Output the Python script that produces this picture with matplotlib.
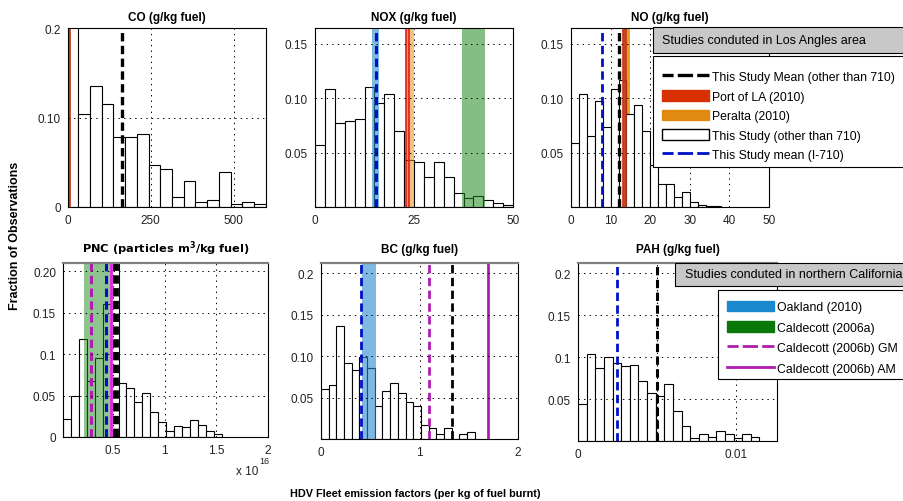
import matplotlib
matplotlib.use('Agg')
import matplotlib.pyplot as plt
import numpy as np
from matplotlib.lines import Line2D
from matplotlib.patches import Patch, Rectangle

plt.rcParams['font.family'] = ['Liberation Sans', 'DejaVu Sans']
plt.rcParams['mathtext.default'] = 'regular'
plt.rcParams['lines.scale_dashes'] = False

# ---------------- data ----------------
co_bin_start, co_bin_width = -4.4, 35.4
co_heights = [0.26, 0.104, 0.135, 0.115, 0.078, 0.078, 0.082, 0.047, 0.043,
              0.011, 0.029, 0.006, 0.008, 0.039, 0.003, 0.006, 0.003]
co_mean = 162
co_port_la = 4

nox_bin_start, nox_bin_width = 0.0, 2.5
nox_heights = [0.057, 0.1086, 0.077, 0.0788, 0.0807, 0.110, 0.096, 0.1037, 0.0696,
               0.043, 0.041, 0.028, 0.041, 0.028, 0.0126, 0.008, 0.0104, 0.006,
               0.0037, 0.0015]
nox_i710_mean = 15.3
nox_oakland = (14.45, 16.2)
nox_port_la = (22.9, 23.8)
nox_peralta = (23.8, 25.0)
nox_caldecott_a = (37.1, 43.0)

no_bin_start, no_bin_width = 0.0, 2.0
no_heights = [0.0589, 0.104, 0.0656, 0.0978, 0.0739, 0.109, 0.117, 0.0856, 0.0938,
              0.0702, 0.0386, 0.0212, 0.0212, 0.0089, 0.0135, 0.0043, 0.0021,
              0.0012, 0.0012]
no_i710_mean = 7.9
no_mean = 12.1
no_port_la = (13.2, 13.8)
no_peralta = (13.8, 14.9)

# PNC in units of 1e16
pnc_bin_start, pnc_bin_width = 0.0155, 0.0768
pnc_heights = [0.0218, 0.049, 0.118, 0.0674, 0.0952, 0.160, 0.25, 0.0646, 0.059,
               0.042, 0.053, 0.030, 0.018, 0.0073, 0.013, 0.0125, 0.020, 0.015,
               0.007, 0.0036]
pnc_caldecott_a = (0.216, 0.474)
pnc_caldecott_gm = 0.284
pnc_i710_mean = 0.429
pnc_caldecott_am = 0.484
pnc_mean = 0.532

bc_bin_start, bc_bin_width = 0.0, 0.078
bc_heights = [0.0605, 0.0653, 0.136, 0.092, 0.0839, 0.0992, 0.0859, 0.0395, 0.058,
              0.0677, 0.0556, 0.0451, 0.0395, 0.0169, 0.0133, 0.0057, 0.0129, 0.0,
              0.0057, 0.0081]
bc_i710_mean = 0.405
bc_oakland = (0.416, 0.557)
bc_caldecott_gm = 1.10
bc_mean = 1.335
bc_caldecott_am = 1.70

pah_bin_start, pah_bin_width = 0.0, 0.000547
pah_heights = [0.0436, 0.1043, 0.0872, 0.1004, 0.0928, 0.0892, 0.0911, 0.0716, 0.057,
               0.054, 0.068, 0.036, 0.0176, 0.0036, 0.008, 0.0044, 0.0116, 0.008,
               0.0032, 0.008, 0.0044]
pah_i710_mean = 0.00248
pah_mean = 0.00498

# ---------------- style ----------------
C_BLACK = 'black'
C_BLUE = '#0010c8'
C_MAG = '#b01cb0'
C_RED = '#e02010'
C_ORANGE = '#e8901a'
C_OAK = '#2a8ad0'
C_GREEN = '#1f8a1f'
DASH = (0, (6.0, 3.2))

fig = plt.figure(figsize=(9.04, 5.02), dpi=100)
W, H = 904.0, 502.0


def make_ax(x0, x1, ytop, ybot):
    return fig.add_axes([x0 / W, 1 - ybot / H, (x1 - x0) / W, (ybot - ytop) / H])


def hist(ax, start, width, heights):
    edges = start + width * np.arange(len(heights))
    ax.bar(edges, heights, width=width, align='edge', facecolor='white',
           edgecolor='black', linewidth=0.8, zorder=1)


def span(ax, rng, color, alpha, edge=None, z=1.5):
    ax.axvspan(rng[0], rng[1], facecolor=color, alpha=alpha, lw=0, zorder=z)
    if edge:
        ax.axvline(rng[0], color=edge, lw=1.2, zorder=1.6)
        ax.axvline(rng[1], color=edge, lw=1.2, zorder=1.6)


def vline(ax, x, color, lw=2.2, dashed=True):
    if dashed:
        ax.axvline(x, color=color, lw=lw, linestyle=DASH, zorder=2)
    else:
        ax.axvline(x, color=color, lw=lw, zorder=2)


def style(ax, title, xlim, ylim, xticks, xlabels, yticks, ylabels, pad, topgray=False,
          tfont=None, tsize=8.5):
    ax.set_xlim(*xlim)
    ax.set_ylim(*ylim)
    ax.set_xticks(xticks)
    ax.set_xticklabels(xlabels)
    ax.set_yticks(yticks)
    ax.set_yticklabels(ylabels)
    ax.set_axisbelow(False)
    ax.grid(True, linestyle=(0, (1, 3)), color='black', lw=0.7)
    ax.tick_params(length=0, labelsize=8.5, pad=5, colors='#222222')
    for s in ax.spines.values():
        s.set_linewidth(0.8)
        s.set_zorder(3)
    if topgray:
        ax.spines['top'].set_color('#808080')
        ax.spines['top'].set_linewidth(1.6)
    kw = dict(fontsize=tsize, fontweight='bold', pad=pad)
    if tfont:
        kw['family'] = tfont
    ax.set_title(title, **kw)


# CO
ax = make_ax(68, 266, 29, 208)
hist(ax, co_bin_start, co_bin_width, co_heights)
ax.axvline(co_port_la, color='#c8401a', lw=2.0, zorder=2)
vline(ax, co_mean, C_BLACK, lw=2.4)
style(ax, 'CO (g/kg fuel)', (0, 598), (0, 0.2), [0, 250, 500], ['0', '250', '500'],
      [0, 0.1, 0.2], ['0', '0.10', '0.2'], 6)

# NOX
ax = make_ax(315, 513, 29, 208)
hist(ax, nox_bin_start, nox_bin_width, nox_heights)
span(ax, nox_oakland, C_OAK, 0.6)
span(ax, nox_port_la, C_RED, 0.5, edge=C_RED)
span(ax, nox_peralta, C_ORANGE, 0.55)
span(ax, nox_caldecott_a, C_GREEN, 0.55)
vline(ax, nox_i710_mean, C_BLUE, lw=2.2)
style(ax, 'NOX (g/kg fuel)', (0, 50), (0, 0.1647), [0, 25, 50], ['0', '25', '50'],
      [0.05, 0.10, 0.15], ['0.05', '0.10', '0.15'], 6)

# NO
ax = make_ax(571, 769, 29, 208)
hist(ax, no_bin_start, no_bin_width, no_heights)
span(ax, no_peralta, C_ORANGE, 0.9, z=0.5)
span(ax, no_port_la, '#c03010', 0.9, edge='#c83a10')
vline(ax, no_i710_mean, C_BLUE, lw=2.0)
vline(ax, no_mean, C_BLACK, lw=2.4)
style(ax, 'NO (g/kg fuel)', (0, 50), (0, 0.1647), [0, 10, 20, 30, 40, 50],
      ['0', '10', '20', '30', '40', '50'],
      [0.05, 0.10, 0.15], ['0.05', '0.10', '0.15'], 6)

# PNC
ax = make_ax(63, 268, 264, 438)
hist(ax, pnc_bin_start, pnc_bin_width, pnc_heights)
span(ax, pnc_caldecott_a, C_GREEN, 0.5)
vline(ax, pnc_caldecott_gm, C_MAG, lw=2.2)
vline(ax, pnc_i710_mean, C_BLUE, lw=2.2)
vline(ax, pnc_caldecott_am, '#e020e0', lw=2.0, dashed=False)
vline(ax, pnc_mean, C_BLACK, lw=4.2)
style(ax, 'PNC (particles m$^3$/kg fuel)', (0.0155, 2.0), (0, 0.21),
      [0.5, 1.0, 1.5, 2.0], ['0.5', '1', '1.5', '2'],
      [0, 0.05, 0.1, 0.15, 0.2], ['0', '0.05', '0.1', '0.15', '0.20'], 8, topgray=True,
      tfont='DejaVu Sans', tsize=8.2)
fig.text(258 / W, 1 - 472 / H, 'x 10', fontsize=8.5, ha='right', va='center', color='#222222')
fig.text(259 / W, 1 - 462 / H, '16', fontsize=6.5, ha='left', va='center', color='#222222')

# BC
ax = make_ax(321, 518, 264, 440)
hist(ax, bc_bin_start, bc_bin_width, bc_heights)
span(ax, bc_oakland, C_OAK, 0.6)
vline(ax, bc_i710_mean, C_BLUE, lw=2.0)
vline(ax, bc_caldecott_gm, C_MAG, lw=2.0)
vline(ax, bc_mean, C_BLACK, lw=2.0)
vline(ax, bc_caldecott_am, C_MAG, lw=2.0, dashed=False)
style(ax, 'BC (g/kg fuel)', (0, 2), (0, 0.2125), [0, 1, 2], ['0', '1', '2'],
      [0.05, 0.10, 0.15, 0.2], ['0.05', '0.10', '0.15', '0.2'], 8, topgray=True)

# PAH
ax = make_ax(578, 777, 264, 442)
hist(ax, pah_bin_start, pah_bin_width, pah_heights)
vline(ax, pah_i710_mean, C_BLUE, lw=2.0)
ax.axvline(pah_mean, color='black', lw=0.8, linestyle=(0, (1, 2)), zorder=2)
vline(ax, pah_mean, C_BLACK, lw=2.2)
style(ax, 'PAH (g/kg fuel)', (0, 0.0126), (0, 0.2125), [0, 0.01], ['0', '0.01'],
      [0.05, 0.1, 0.15, 0.2], ['0.05', '0.1', '0.15', '0.2'], 8, topgray=True)

# ---------------- legends ----------------
def title_box(x, ytop, ybot, text, tx):
    fig.add_artist(Rectangle((x / W, 1 - ybot / H), 0.5, (ybot - ytop) / H,
                             transform=fig.transFigure, facecolor='#c8c8c8',
                             edgecolor='black', lw=0.8, zorder=10))
    fig.text(tx / W, 1 - (ytop + ybot) / 2 / H, text, fontsize=9.0, ha='left',
             va='center', zorder=11)


def legend_box(x, ytop, ybot):
    fig.add_artist(Rectangle((x / W, 1 - ybot / H), 0.5, (ybot - ytop) / H,
                             transform=fig.transFigure, facecolor='white',
                             edgecolor='black', lw=0.8, zorder=10))


title_box(653, 28, 54, 'Studies conduted in Los Angles area', 662)
legend_box(653, 57, 168)
h_la = [Line2D([], [], color='black', lw=2.4, linestyle=(3, (11, 3))),
        Patch(facecolor='#d83000', edgecolor='#d83000'),
        Patch(facecolor='#e08a10', edgecolor='#e08a10'),
        Patch(facecolor='white', edgecolor='black'),
        Line2D([], [], color=C_BLUE, lw=2.0, linestyle=(3, (11, 3)))]
l_la = ['This Study Mean (other than 710)', 'Port of LA (2010)', 'Peralta (2010)',
        'This Study (other than 710)', 'This Study mean (I-710)']
leg1 = fig.legend(h_la, l_la, loc='upper left', bbox_to_anchor=(653 / W, 1 - 63 / H),
                  frameon=False, fontsize=8.8, handlelength=3.9, handleheight=1.0,
                  handletextpad=0.25, labelspacing=0.56, borderpad=0.7, borderaxespad=0)
leg1.set_zorder(12)

title_box(675, 264, 287, 'Studies conduted in northern California', 685)
legend_box(718, 291, 380)
h_nc = [Patch(facecolor='#1a88cc', edgecolor='#1a88cc'),
        Patch(facecolor='#0a780a', edgecolor='#0a780a'),
        Line2D([], [], color=C_MAG, lw=2.0, linestyle=(3, (11, 3))),
        Line2D([], [], color=C_MAG, lw=2.0)]
l_nc = ['Oakland (2010)', 'Caldecott (2006a)', 'Caldecott (2006b) GM',
        'Caldecott (2006b) AM']
leg2 = fig.legend(h_nc, l_nc, loc='upper left', bbox_to_anchor=(718 / W, 1 - 293 / H),
                  frameon=False, fontsize=8.8, handlelength=3.9, handleheight=1.0,
                  handletextpad=0.25, labelspacing=0.64, borderpad=0.7, borderaxespad=0)
leg2.set_zorder(12)

# ---------------- shared labels ----------------
fig.text(15 / W, 1 - 236 / H, 'Fraction of Observations', rotation=90, fontsize=9,
         fontweight='bold', ha='center', va='center')
fig.text(415 / W, 1 - 494 / H, 'HDV Fleet emission factors (per kg of fuel burnt)',
         fontsize=7.8, fontweight='bold', ha='center', va='center')

fig.savefig('out.png', dpi=100)
